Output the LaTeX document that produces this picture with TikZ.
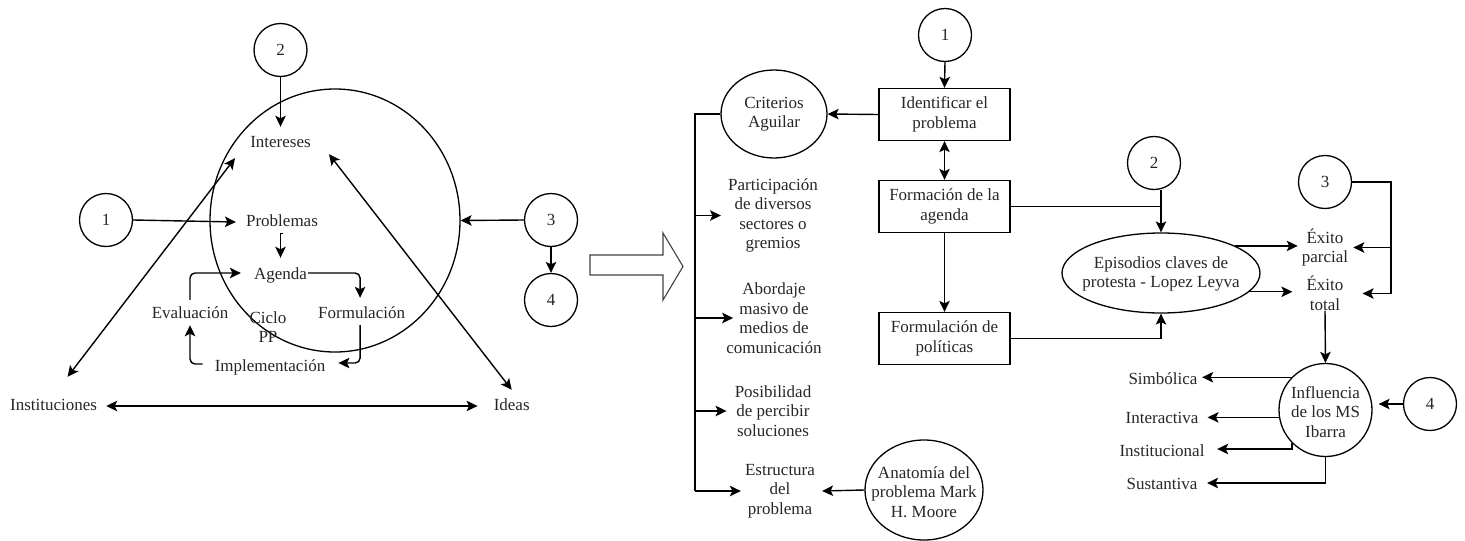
\documentclass[tikz,border=0pt]{standalone}
\usepackage{fontspec}
\setmainfont{Liberation Serif}
\usetikzlibrary{arrows.meta,calc,shapes.geometric}
\newcommand\dfont{\fontsize{17}{19.5}\selectfont}
\tikzset{
  ln/.style={line width=1.4pt, draw=black},
  tipa/.tip={Stealth[length=11pt,width=10.5pt,inset=2.5pt]},
  arr/.style={ln, -tipa},
  darr/.style={ln, tipa-tipa},
  numc/.style={circle, draw, line width=1.3pt, minimum size=53pt, inner sep=0pt, font=\dfont, text=black!85},
  txt/.style={align=center, inner sep=0pt, font=\dfont, text=black!85, text height=12pt, text depth=4pt},
  mtxt/.style={align=center, inner sep=0pt, font=\dfont, text=black!85},
  stepbox/.style={draw, line width=1.3pt, minimum width=131pt, minimum height=52pt, align=center, inner sep=0pt, font=\dfont, text=black!85},
  ovl/.style={ellipse, draw, line width=1.3pt, inner sep=0pt},
}
\begin{document}
\begin{tikzpicture}[x=1pt,y=-1pt]
\useasboundingbox (0,0) rectangle (1465,541);
% ---------------- LEFT PART ----------------
\node[ovl, minimum width=250pt, minimum height=263pt] (big) at (335,220.5) {};
\node[numc] (L2) at (280.5,50) {2};
\node[numc] (L1) at (106,220) {1};
\node[numc] (L3) at (551,220) {3};
\node[numc] (L4) at (551,300) {4};
\node[txt] (int) at (280.5,143) {Intereses};
\node[txt] (prob) at (282,222) {Problemas};
\node[txt] (agd) at (280.5,275) {Agenda};
\node[txt] (form) at (361.6,314) {Formulación};
\node[txt] (eval) at (190,314) {Evaluación};
\node[txt] (impl) at (270,367) {Implementación};
\node[mtxt] (ciclo) at (268,327) {Ciclo\\PP};
\node[txt] (inst) at (53.6,406) {Instituciones};
\node[txt] (ideas) at (511.7,406) {Ideas};

\draw[arr] (L2.south) -- ($(int.north)+(0,-8)$);
\draw[arr] (L1.east) -- ($(prob.west)+(-10,0)$);
\draw[arr] (L3.west) -- (big.east);
\draw[arr] (L3.south) -- (L4.north);
\draw[arr] ($(prob.south -| agd.north)+(2,3)$) -- ($(prob.south -| agd.north)+(0,3)$) -- ($(agd.north)+(0,-9)$);
\draw[arr, rounded corners=5pt] ($(agd.east)+(1,-2)$) -| ($(form.north)+(-1.5,-8)$);
\draw[arr, rounded corners=5pt] ($(form.south)+(-1.5,3)$) |- ($(impl.east)+(13,-4)$);
\draw[arr, rounded corners=5pt] ($(impl.west)+(-12,-3)$) -| ($(eval.south)+(0,3)$);
\draw[arr, rounded corners=5pt] ($(eval.north)+(0,-6)$) |- ($(agd.west)+(-13,-2)$);
\draw[darr] ($(inst.east)+(9,0)$) -- ($(ideas.west)+(-16,0)$);
\draw[darr] ($(inst.north)+(14,-21)$) -- ($(int.south)+(-45.5,7)$);
\draw[darr] ($(ideas.north)+(0,-8)$) -- ($(int.south)+(48.5,3)$);

% hollow arrow
\draw[line width=1.1pt, draw=black!75] (590,255) -- (663,255) -- (663,233) -- (683,266.5) -- (663,300) -- (663,275) -- (590,275) -- cycle;

% ---------------- MIDDLE PART ----------------
\node[numc] (R1) at (945,35) {1};
\node[stepbox] (idp) at (944.5,114.5) {Identificar el\\problema};
\node[stepbox] (fag) at (944.5,206.5) {Formación de la\\agenda};
\node[stepbox] (fpo) at (944.5,338.5) {Formulación de\\políticas};
\node[ovl, minimum width=106pt, minimum height=88pt] (cri) at (774,114) {};
\node[mtxt] (crit) at (cri) {Criterios\\Aguilar};
\node[mtxt] (t1) at (773,215.5) {Participación\\de diversos\\sectores o\\gremios};
\node[mtxt] (t2) at (774,318) {Abordaje\\masivo de\\medios de\\comunicación};
\node[mtxt] (t3) at (773,411) {Posibilidad\\de percibir\\soluciones};
\node[mtxt] (t4) at (780,491) {Estructura\\del\\problema};
\node[ovl, minimum width=118pt, minimum height=100pt] (ana) at (924,490) {};
\node[mtxt] (anat) at (924,492) {Anatomía del\\problema Mark\\H. Moore};

\draw[arr] (R1.south) -- (idp.north);
\draw[darr] (idp.south) -- (fag.north);
\draw[arr] (fag.south) -- (fpo.north);
\draw[arr] (idp.west) -- (cri.east);
\coordinate (bx) at (695,114);
\draw[ln] (cri.west) -- (bx) -- (bx |- t4);
\draw[arr] (bx |- t1) -- ($(t1.west)+(-7,0)$);
\draw[arr] (bx |- t2) -- ($(t2.west)+(7,0)$);
\draw[arr] (bx |- t3) -- ($(t3.west)+(-8,0)$);
\draw[arr] (bx |- t4) -- ($(t4.west)+(-4,0)$);
\draw[arr] (ana.west) -- ($(t4.east)+(7,0)$);

% ---------------- RIGHT PART ----------------
\node[numc] (R2) at (1154,163) {2};
\node[ovl, minimum width=198pt, minimum height=80pt] (epi) at (1161,273) {};
\node[mtxt] (epit) at (1161,274) {Episodios claves de\\protesta - Lopez Leyva};
\node[numc] (R3) at (1325,182) {3};
\node[mtxt] (exp) at (1325,247.5) {Éxito\\parcial};
\node[mtxt] (ext) at (1325,293.5) {Éxito\\total};
\node[circle, draw, line width=1.3pt, minimum size=93pt, inner sep=0pt] (inf) at (1325.5,410) {};
\node[mtxt] (inft) at (1325.5,412) {Influencia\\de los MS\\Ibarra};
\node[numc] (R4) at (1430,404) {4};
\node[txt] (sim) at (1163,380) {Simbólica};
\node[txt] (inte) at (1162,419) {Interactiva};
\node[txt] (ins) at (1162,452) {Institucional};
\node[txt] (sus) at (1162,485) {Sustantiva};

\draw[ln] (fag.east) -- (fag.east -| epi.north);
\draw[arr] (R2.south -| epi.north) -- (epi.north);
\draw[arr] (fpo.east) -| (epi.south);
\draw[arr] (epi.20) -- ($(epi.20 -| exp.west)+(-4,0)$);
\draw[arr] (epi.-12) -- ($(epi.-12 -| ext.west)+(-14,0)$);
\coordinate (j3) at ($(R3.east)+(39,0)$);
\draw[ln] (R3.east) -- (j3) -- (j3 |- ext);
\draw[arr] (j3 |- exp) -- ($(exp.east)+(5,0)$);
\draw[arr] (j3 |- ext) -- ($(ext.east)+(19,0)$);
\draw[arr] (ext.south) -- (inf.north);
\draw[arr] (R4.west) -- ($(inf.east |- R4.west)+(6,0)$);
\draw[arr] (inf.136) -- ($(inf.136 -| sim.east)+(4.5,0)$);
\draw[arr] (inf.189) -- ($(inf.189 -| inte.east)+(9,0)$);
\draw[arr] (inf.225) |- ($(ins.east)+(12.5,-3)$);
\draw[arr] (inf.south) |- ($(sus.east)+(9.5,-2)$);
\end{tikzpicture}
\end{document}
